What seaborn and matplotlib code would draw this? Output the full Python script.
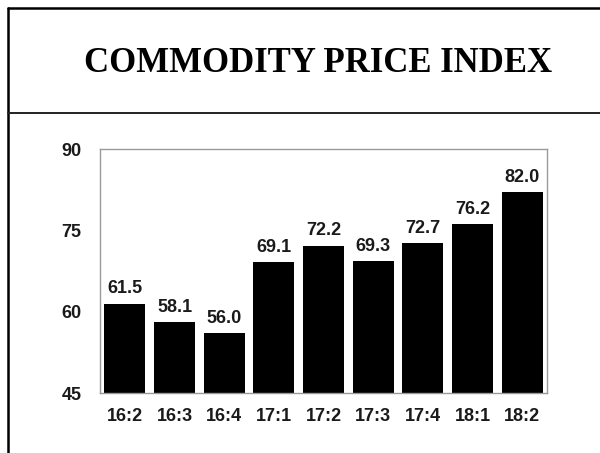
import matplotlib
matplotlib.use("Agg")
import matplotlib.pyplot as plt
import seaborn as sns
import pandas as pd
from matplotlib.lines import Line2D

categories = ["16:2", "16:3", "16:4", "17:1", "17:2", "17:3", "17:4", "18:1", "18:2"]
values = [61.5, 58.1, 56.0, 69.1, 72.2, 69.3, 72.7, 76.2, 82.0]
yticks = [45, 60, 75, 90]
title = "COMMODITY PRICE INDEX"

sns.set_theme(style="white")
plt.rcParams['font.family'] = ['Liberation Sans', 'DejaVu Sans']

df = pd.DataFrame({"q": categories, "v": values})

fig = plt.figure(figsize=(6, 4.53), dpi=100)
W, H = 600, 453
ax = fig.add_axes([100 / W, 1 - 393 / H, 447 / W, 244 / H])

sns.barplot(data=df, x="q", y="v", color="black", width=0.83, ax=ax,
            saturation=1, edgecolor="black", linewidth=0)
ax.set_ylim(45, 90)
ax.set_xlim(-0.5, 8.5)
ax.set_yticks(yticks)
ax.set_xlabel("")
ax.set_ylabel("")
for s in ax.spines.values():
    s.set_color("#9a9a9a")
    s.set_linewidth(1.0)
ax.tick_params(axis="both", length=0, labelsize=13, colors="#1a1a1a")
ax.tick_params(axis="y", pad=13.5)
ax.tick_params(axis="x", pad=10.5)
for lab in ax.get_xticklabels() + ax.get_yticklabels():
    lab.set_fontweight("bold")

ax.bar_label(ax.containers[0], fmt="%.1f", padding=4.5, fontsize=13,
             fontweight="bold", color="#1a1a1a")

# outer frame and separator
fig.add_artist(Line2D([8 / W, 8 / W], [0, 1 - 7.5 / H], color="black", lw=1.8))
fig.add_artist(Line2D([8 / W, 1], [1 - 7.5 / H, 1 - 7.5 / H], color="black", lw=1.8))
fig.add_artist(Line2D([8 / W, 1], [1 - 113 / H, 1 - 113 / H], color="#222222", lw=1.4))

fig.text(318.5 / W, 1 - 64 / H, title, ha="center", va="center",
         fontsize=25, fontweight="bold", family=["Liberation Serif", "DejaVu Serif"],
         color="black")

fig.savefig("out.png", dpi=100)
